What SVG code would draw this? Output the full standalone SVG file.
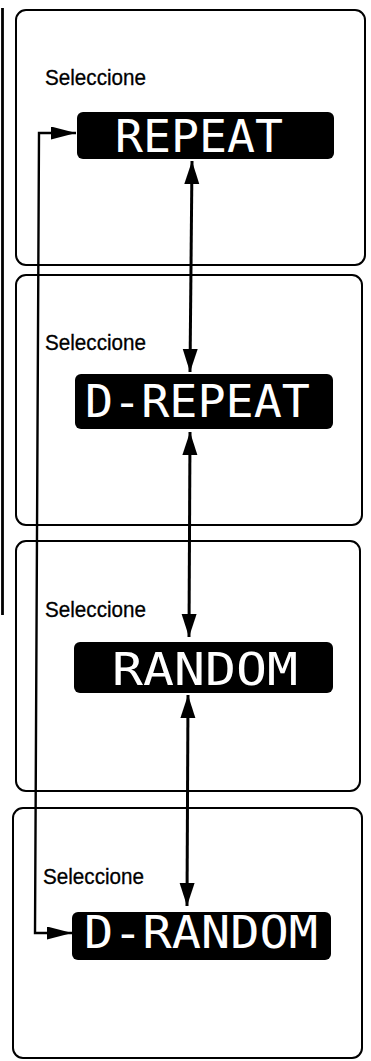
<svg xmlns="http://www.w3.org/2000/svg" width="371" height="1061" viewBox="0 0 371 1061">
<style>
.panel{fill:none;stroke:#000;stroke-width:2}
.lbl{font-family:"Liberation Sans",Arial,sans-serif;font-size:22px;fill:#000;stroke:#000;stroke-width:0.3}
.lcdbox{fill:#000}
.lcd{font-family:"DejaVu Sans Mono","Liberation Mono",monospace;font-size:45px;fill:#fff}
.conn{fill:none;stroke:#000;stroke-width:3}
.side{fill:none;stroke:#000;stroke-width:2.4}
</style>
<defs>
<marker id="ah" markerUnits="userSpaceOnUse" markerWidth="26" markerHeight="18" refX="23" refY="7.5" orient="auto-start-reverse">
<path d="M0,0 L23,7.5 L0,15 Z" fill="#000"/>
</marker>
<marker id="ahs" markerUnits="userSpaceOnUse" markerWidth="28" markerHeight="16" refX="25" refY="6.5" orient="auto-start-reverse">
<path d="M0,0 L25,6.5 L0,13 Z" fill="#000"/>
</marker>
</defs>
<line x1="2.5" y1="8" x2="2.5" y2="615" stroke="#000" stroke-width="2.8"/>
<g id="panel-repeat">
<rect class="panel" x="16" y="10" width="349" height="255" rx="10"/>
<text class="lbl" x="45" y="85" textLength="101" lengthAdjust="spacingAndGlyphs">Seleccione</text>
<rect class="lcdbox" x="77" y="112" width="257" height="47" rx="6"/>
<text class="lcd" x="115" y="152" textLength="168" lengthAdjust="spacingAndGlyphs">REPEAT</text>
</g>
<g id="panel-d-repeat">
<rect class="panel" x="16" y="275" width="346" height="250" rx="10"/>
<text class="lbl" x="45" y="350" textLength="101" lengthAdjust="spacingAndGlyphs">Seleccione</text>
<rect class="lcdbox" x="75" y="374" width="258" height="55" rx="6"/>
<text class="lcd" x="85" y="417" textLength="225" lengthAdjust="spacingAndGlyphs">D-REPEAT</text>
</g>
<g id="panel-random">
<rect class="panel" x="16" y="541" width="344" height="250" rx="10"/>
<text class="lbl" x="45" y="617" textLength="101" lengthAdjust="spacingAndGlyphs">Seleccione</text>
<rect class="lcdbox" x="74" y="642" width="259" height="51" rx="6"/>
<text class="lcd" x="112" y="685" textLength="186" lengthAdjust="spacingAndGlyphs">RANDOM</text>
</g>
<g id="panel-d-random">
<rect class="panel" x="13" y="808" width="349" height="250" rx="10"/>
<text class="lbl" x="43" y="884" textLength="101" lengthAdjust="spacingAndGlyphs">Seleccione</text>
<rect class="lcdbox" x="72" y="912" width="259" height="48" rx="6"/>
<text class="lcd" x="84" y="948" textLength="234" lengthAdjust="spacingAndGlyphs">D-RANDOM</text>
</g>
<g id="connectors">
<path class="conn" d="M192,161 L190,372" marker-start="url(#ah)" marker-end="url(#ah)"/>
<path class="conn" d="M190,432 L189,637" marker-start="url(#ah)" marker-end="url(#ah)"/>
<path class="conn" d="M188,695 L187,906" marker-start="url(#ah)" marker-end="url(#ah)"/>
<path class="side" d="M72,933 L35,933 L39,133 L76,133" marker-start="url(#ahs)" marker-end="url(#ahs)"/>
</g>
</svg>
